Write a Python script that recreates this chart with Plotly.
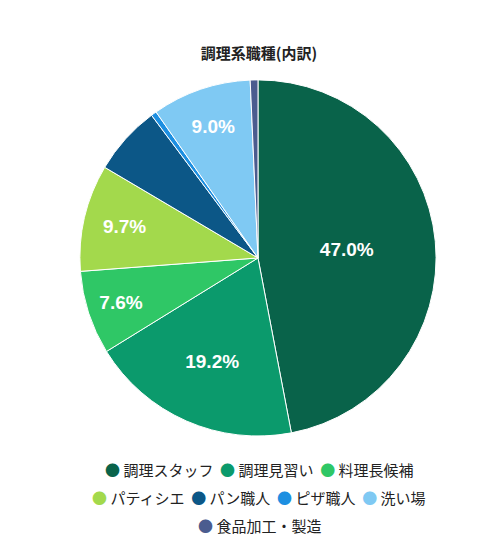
import plotly.graph_objects as go

labels = ["調理スタッフ", "調理見習い", "料理長候補", "パティシエ", "パン職人", "ピザ職人", "洗い場", "食品加工・製造"]
values = [47.0, 19.2, 7.6, 9.7, 6.3, 0.5, 9.0, 0.7]
colors = ["#09634a", "#0b9a6c", "#2fc766", "#a3d94c", "#0c5787", "#1d8fe1", "#7fc9f3", "#4b5c8f"]
legend_rows = [[0, 1, 2], [3, 4, 5, 6], [7]]

texts = [f"<b>{v:.1f}%</b>" if v >= 7 else "" for v in values]

fig = go.Figure(go.Pie(
    labels=labels, values=values, sort=False, direction="clockwise", rotation=0,
    domain=dict(x=[0.143, 0.853], y=[0.226, 0.870]),
    marker=dict(colors=colors, line=dict(color="white", width=1)),
    text=texts, textinfo="text", textposition="inside", insidetextorientation="horizontal",
    textfont=dict(color="white", size=19, family="Liberation Sans"),
    hoverinfo="label+percent", showlegend=False,
))

# legend drawn as centered text rows
for r, row in enumerate(legend_rows):
    parts = [f"<span style='color:{colors[i]}'>●</span> {labels[i]}" for i in row]
    fig.add_annotation(text="  ".join(parts), x=0.5, xref="paper", xanchor="center",
                       y=(553 - 461 - r * 28) / 553, yref="paper", yanchor="middle",
                       showarrow=False, font=dict(size=15, color="#222", family="Noto Sans CJK JP"))

fig.update_layout(
    width=502, height=553, paper_bgcolor="white",
    title=dict(text="<b>調理系職種(内訳)</b>", x=0.5, xanchor="center", y=1 - 46 / 553, yanchor="middle",
               font=dict(size=15, color="#222", family="Noto Sans CJK JP")),
    margin=dict(l=0, r=0, t=0, b=0),
)
fig.write_html("out.html")
